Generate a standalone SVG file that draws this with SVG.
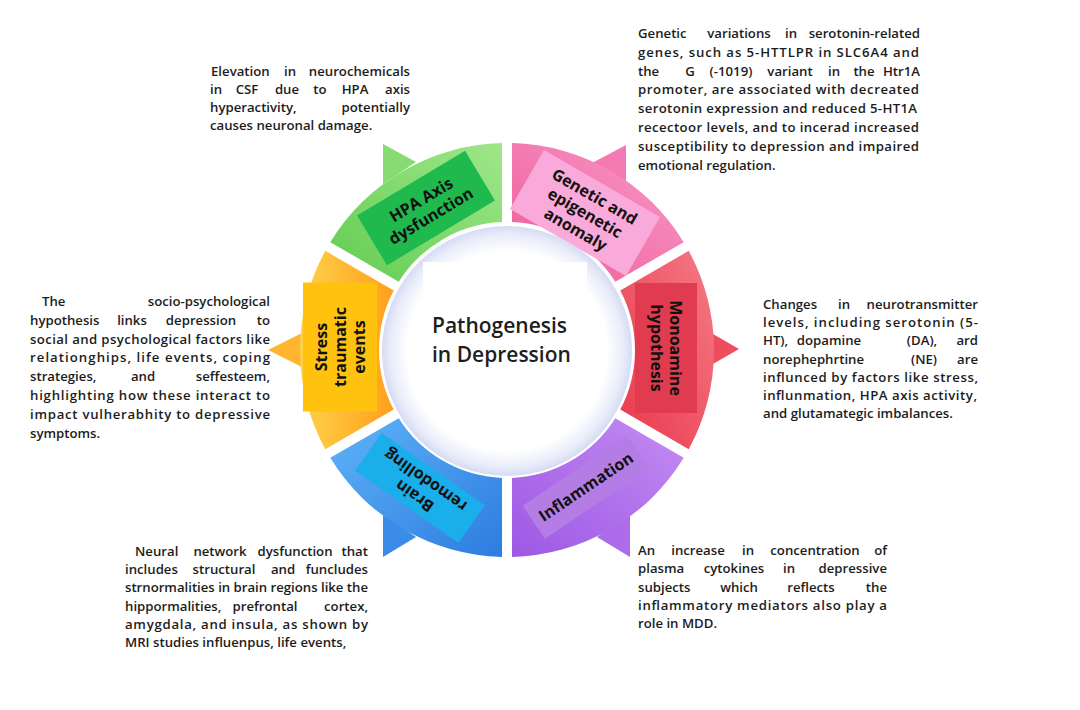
<svg xmlns="http://www.w3.org/2000/svg" width="1080" height="710" viewBox="0 0 1080 710">
<defs>
<linearGradient id="gGreen" x1="1" y1="0" x2="0" y2="1"><stop offset="0" stop-color="#9fe78a"/><stop offset="1" stop-color="#62cc52"/></linearGradient>
<linearGradient id="gPink" x1="1" y1="0" x2="0" y2="1"><stop offset="0" stop-color="#f89ccb"/><stop offset="1" stop-color="#ee5a96"/></linearGradient>
<linearGradient id="gRed" x1="1" y1="0" x2="0" y2="1"><stop offset="0" stop-color="#f57a85"/><stop offset="1" stop-color="#e9384c"/></linearGradient>
<linearGradient id="gPurple" x1="1" y1="0" x2="0" y2="1"><stop offset="0" stop-color="#c48cf2"/><stop offset="1" stop-color="#9d58e4"/></linearGradient>
<linearGradient id="gBlue" x1="0" y1="0" x2="1" y2="1"><stop offset="0" stop-color="#5fb3f7"/><stop offset="1" stop-color="#2d7ce0"/></linearGradient>
<linearGradient id="gYellow" x1="0" y1="0" x2="1" y2="0"><stop offset="0" stop-color="#ffd24a"/><stop offset="1" stop-color="#ff9f1c"/></linearGradient>
<radialGradient id="gCore" cx="0.5" cy="0.5" r="0.5"><stop offset="0" stop-color="#ffffff"/><stop offset="0.8" stop-color="#ffffff"/><stop offset="0.93" stop-color="#e9ecfa"/><stop offset="1" stop-color="#d5dbf3"/></radialGradient>
<style>
.body{font-family:"Open Sans","Liberation Sans",sans-serif;font-weight:600;font-size:13.2px;fill:#1c1c1c}
.lab{font-family:"Open Sans","Liberation Sans",sans-serif;font-weight:700;font-size:16px;fill:#111;text-anchor:middle}
.title{font-family:"Open Sans","Liberation Sans",sans-serif;font-weight:600;font-size:21px;fill:#1e1e1e}
.m{text-anchor:middle}
.e{text-anchor:end}
</style>
</defs>
<rect width="1080" height="710" fill="#ffffff"/>

<g id="connectors">
<polygon points="383,144 416,162 383,184" fill="#86dc72"/>
<polygon points="626,145 592,163 626,186" fill="#f37ab2"/>
<polygon points="268,350 306,331 306,369" fill="#ffb52e"/>
<polygon points="739,349 706,330 706,368" fill="#ee4d5e"/>
<polygon points="383,514 383,557 416,537" fill="#3a8ce8"/>
<polygon points="630,514 630,557 597,537" fill="#ad6ae9"/>
</g>

<g id="node-hpa">
<path d="M502,143.06 A207,207 0 0 0 330.29,242.2 L398.73,281.72 A128,128 0 0 1 502,222.1 Z" fill="url(#gGreen)"/>
<g transform="translate(426,208) rotate(-31)">
<rect x="-63" y="-29" width="126" height="58" fill="#1fb94e"/>
<text class="lab" y="-4">HPA Axis</text>
<text class="lab" y="15">dysfunction</text>
</g>
</g>

<g id="node-genetic">
<path d="M683.71,242.2 A207,207 0 0 0 512,143.06 L512,222.1 A128,128 0 0 1 615.27,281.72 Z" fill="url(#gPink)"/>
<g transform="translate(585,213) rotate(30)">
<rect x="-67" y="-34" width="134" height="68" fill="#f9a9da"/>
<text class="lab" y="-13.5">Genetic and</text>
<text class="lab" y="5.5">epigenetic</text>
<text class="lab" y="24.5">anomaly</text>
</g>
</g>

<g id="node-monoamine">
<path d="M688.72,449.14 A207,207 0 0 0 688.72,250.86 L620.27,290.38 A128,128 0 0 1 620.27,409.62 Z" fill="url(#gRed)"/>
<g transform="translate(666,348) rotate(90)">
<rect x="-65" y="-31" width="130" height="62" fill="#e13b4f"/>
<text class="lab" y="-4">Monoamine</text>
<text class="lab" y="15">hypothesis</text>
</g>
</g>

<g id="node-inflammation">
<path d="M512,556.94 A207,207 0 0 0 683.71,457.8 L615.27,418.28 A128,128 0 0 1 512,477.9 Z" fill="url(#gPurple)"/>
<g transform="translate(586,487) rotate(-34)">
<rect x="-63" y="-20" width="126" height="40" fill="#b47de6"/>
<text class="lab" y="5.5">Inflammation</text>
</g>
</g>

<g id="node-brain">
<path d="M330.29,457.8 A207,207 0 0 0 502,556.94 L502,477.9 A128,128 0 0 1 398.73,418.28 Z" fill="url(#gBlue)"/>
<g transform="translate(420,488) rotate(-145)">
<rect x="-63" y="-23" width="126" height="46" fill="#1aaeea"/>
<text class="lab" y="-4">Brain</text>
<text class="lab" y="15">remodolling</text>
</g>
</g>

<g id="node-stress">
<path d="M325.28,250.86 A207,207 0 0 0 325.28,449.14 L393.73,409.62 A128,128 0 0 1 393.73,290.38 Z" fill="url(#gYellow)"/>
<g transform="translate(340,347) rotate(-90)">
<rect x="-64.5" y="-37" width="129" height="74" fill="#ffc20e"/>
<text class="lab" y="-13.5">Stress</text>
<text class="lab" y="5.5">traumatic</text>
<text class="lab" y="24.5">events</text>
</g>
</g>

<g id="node-center">
<circle cx="507" cy="351" r="125" fill="url(#gCore)"/>
<rect x="423" y="262" width="164" height="150" fill="#ffffff"/>
<text class="title" x="432" y="333">Pathogenesis</text>
<text class="title" x="432" y="362">in Depression</text>
</g>

<g id="text-hpa" class="body">
<text x="211" y="76">Elevation</text><text class="m" x="290" y="76">in</text><text class="e" x="410" y="76">neurochemicals</text>
<text x="210" y="94">in</text><text class="m" x="247" y="94">CSF</text><text class="m" x="287" y="94">due</text><text class="m" x="320" y="94">to</text><text class="m" x="355" y="94">HPA</text><text class="e" x="410" y="94">axis</text>
<text x="210" y="112">hyperactivity,</text><text class="e" x="410" y="112">potentially</text>
<text x="210" y="130">causes neuronal damage.</text>
</g>

<g id="text-genetic" class="body">
<text x="638" y="38">Genetic</text><text class="m" x="739" y="38">variations</text><text class="m" x="791" y="38">in</text><text class="e" x="920" y="38">serotonin-related</text>
<text x="638" y="56.8" textLength="281" lengthAdjust="spacing">genes, such as 5-HTTLPR in SLC6A4 and</text>
<text x="638" y="75.6">the</text><text class="m" x="690" y="75.6">G</text><text class="m" x="731" y="75.6">(-1019)</text><text class="m" x="790" y="75.6">variant</text><text class="m" x="834" y="75.6">in</text><text class="m" x="864" y="75.6">the</text><text class="e" x="920" y="75.6">Htr1A</text>
<text x="638" y="94.4" textLength="281" lengthAdjust="spacing">promoter, are associated with decreated</text>
<text x="638" y="113.2" textLength="279" lengthAdjust="spacing">serotonin expression and reduced 5-HT1A</text>
<text x="638" y="132" textLength="281" lengthAdjust="spacing">recectoor levels, and to incerad increased</text>
<text x="638" y="150.8" textLength="281" lengthAdjust="spacing">susceptibility to depression and impaired</text>
<text x="638" y="169.6">emotional regulation.</text>
</g>

<g id="text-stress" class="body">
<text x="42" y="306">The</text><text class="e" x="270" y="306">socio-psychological</text>
<text x="30" y="324.8">hypothesis</text><text class="m" x="132" y="324.8">links</text><text class="m" x="201" y="324.8">depression</text><text class="e" x="270" y="324.8">to</text>
<text x="30" y="343.6" textLength="240" lengthAdjust="spacing">social and psychological factors like</text>
<text x="30" y="362.4" textLength="240" lengthAdjust="spacing">relationghips, life events, coping</text>
<text x="30" y="381.2">strategies,</text><text class="m" x="143" y="381.2">and</text><text class="e" x="270" y="381.2">seffesteem,</text>
<text x="30" y="400" textLength="240" lengthAdjust="spacing">highlighting how these interact to</text>
<text x="30" y="418.8" textLength="240" lengthAdjust="spacing">impact vulherabhity to depressive</text>
<text x="30" y="437.6">symptoms.</text>
</g>

<g id="text-monoamine" class="body">
<text x="763" y="309">Changes</text><text class="m" x="844" y="309">in</text><text class="e" x="978" y="309">neurotransmitter</text>
<text x="763" y="327.2" textLength="215" lengthAdjust="spacing">levels, including serotonin (5-</text>
<text x="763" y="345.4">HT),</text><text class="m" x="829" y="345.4">dopamine</text><text class="m" x="922" y="345.4">(DA),</text><text class="e" x="978" y="345.4">ard</text>
<text x="763" y="363.6">norephephrtine</text><text class="m" x="924" y="363.6">(NE)</text><text class="e" x="978" y="363.6">are</text>
<text x="763" y="381.8" textLength="215" lengthAdjust="spacing">influnced by factors like stress,</text>
<text x="763" y="400" textLength="214" lengthAdjust="spacing">influnmation, HPA axis activity,</text>
<text x="763" y="418.2">and glutamategic imbalances.</text>
</g>

<g id="text-brain" class="body">
<text x="135" y="556">Neural</text><text class="m" x="220" y="556">network</text><text class="m" x="295" y="556">dysfunction</text><text class="e" x="368" y="556">that</text>
<text x="125" y="574.2">includes</text><text class="m" x="224" y="574.2">structural</text><text class="m" x="283" y="574.2">and</text><text class="e" x="368" y="574.2">funcludes</text>
<text x="125" y="592.4" textLength="243" lengthAdjust="spacing">strnormalities in brain regions like the</text>
<text x="125" y="610.6">hippormalities,</text><text class="m" x="265" y="610.6">prefrontal</text><text class="e" x="368" y="610.6">cortex,</text>
<text x="125" y="628.8" textLength="243" lengthAdjust="spacing">amygdala, and insula, as shown by</text>
<text x="125" y="647">MRI studies influenpus, life events,</text>
</g>

<g id="text-inflammation" class="body">
<text x="638" y="555">An</text><text class="m" x="698" y="555">increase</text><text class="m" x="748" y="555">in</text><text class="m" x="815" y="555">concentration</text><text class="e" x="887" y="555">of</text>
<text x="638" y="573.3">plasma</text><text class="m" x="734" y="573.3">cytokines</text><text class="m" x="789" y="573.3">in</text><text class="e" x="887" y="573.3">depressive</text>
<text x="638" y="591.6">subjects</text><text class="m" x="739" y="591.6">which</text><text class="m" x="811" y="591.6">reflects</text><text class="e" x="887" y="591.6">the</text>
<text x="638" y="609.9" textLength="249" lengthAdjust="spacing">inflammatory mediators also play a</text>
<text x="638" y="628.2">role in MDD.</text>
</g>
</svg>
